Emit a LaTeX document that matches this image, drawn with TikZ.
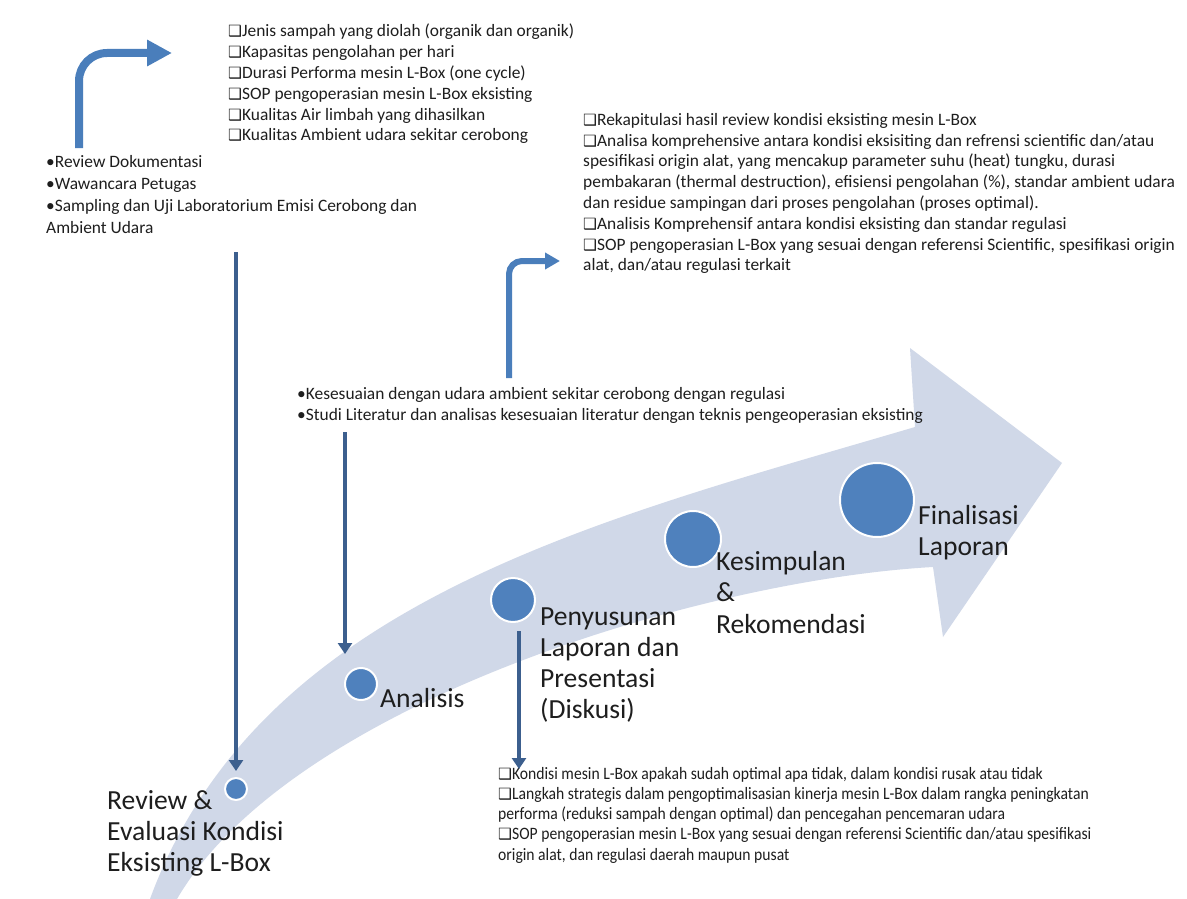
\documentclass[tikz,border=0pt]{standalone}
\usepackage{fontspec}
\setmainfont{Carlito}
\newfontfamily\narrowfont[FakeStretch=0.9]{Carlito}
\newfontfamily\djv{DejaVu Sans}
\usetikzlibrary{arrows.meta}
\definecolor{bandcol}{HTML}{D0D8E8}
\definecolor{dotcol}{HTML}{4F81BD}
\definecolor{vlinecol}{HTML}{3C5F8E}
\definecolor{bentcol}{HTML}{4A7EBB}
\definecolor{txtcol}{HTML}{1E1E1E}
\newcommand{\bx}{{\djv\fontsize{15.5}{15.5}\selectfont ❑}}
\begin{document}
\begin{tikzpicture}[x=1pt,y=-1pt,
  smalltxt/.style={font=\fontsize{17.4}{20.8}\selectfont, text=txtcol, align=left, anchor=north west, inner sep=0pt},
  narrowtxt/.style={font=\narrowfont\fontsize{17.4}{20.2}\selectfont, text=txtcol, align=left, anchor=north west, inner sep=0pt},
  bigtxt/.style={font=\fontsize{27.6}{31}\selectfont, text=txtcol, align=left, anchor=north west, inner sep=0pt},
  stage/.style={circle, fill=dotcol, draw=white, line width=2pt, inner sep=0pt},
  drop/.style={draw=vlinecol, line width=4pt, -{Triangle[length=11pt,width=14pt]}},
  bentarrow/.style={draw=bentcol, line width=8pt, -{Triangle[length=25pt,width=25pt]}},
  bentsmall/.style={draw=bentcol, line width=6pt, -{Triangle[length=15pt,width=16pt]}}]
\useasboundingbox (0,0) rectangle (1187,899);
\fill[white] (0,0) rectangle (1187,899);

% big curved arrow band
\fill[bandcol] (150,899) .. controls (260,600) and (600,520) .. (915,427)
  -- (910,348) -- (1062,463) -- (943,637) -- (933,567)
  .. controls (700,580) and (290,705) .. (177,899) -- cycle;

% stage circles
\node[stage, minimum size=22pt] (c1) at (236,789) {};
\node[stage, minimum size=32pt] (c2) at (361,684) {};
\node[stage, minimum size=44pt] (c3) at (513,600) {};
\node[stage, minimum size=56pt] (c4) at (693,539) {};
\node[stage, minimum size=74pt] (c5) at (877,500) {};

% stage labels
\node[bigtxt] (l1) at (107,790) {Review \&\\Evaluasi Kondisi\\Eksisting L-Box};
\node[bigtxt] (l2) at (380,688) {Analisis};
\node[bigtxt] (l3) at (540,608) {Penyusunan\\Laporan dan\\Presentasi\\(Diskusi)};
\node[bigtxt, font=\fontsize{27.6}{31.5}\selectfont] (l4) at (716,551) {Kesimpulan\\\&\\Rekomendasi};
\node[bigtxt] (l5) at (918,505) {Finalisasi\\Laporan};

% text blocks
\node[smalltxt] (t1) at (228,24) {\bx Jenis sampah yang diolah (organik dan organik)\\
\bx Kapasitas pengolahan per hari\\
\bx Durasi Performa mesin L-Box (one cycle)\\
\bx SOP pengoperasian mesin L-Box eksisting\\
\bx Kualitas Air limbah yang dihasilkan\\
\bx Kualitas Ambient udara sekitar cerobong};

\node[smalltxt, font=\fontsize{17.4}{22}\selectfont] (t0) at (46,155) {•Review Dokumentasi\\
•Wawancara Petugas\\
•Sampling dan Uji Laboratorium Emisi Cerobong dan\\
Ambient Udara};

\node[smalltxt] (t2) at (583,113) {\bx Rekapitulasi hasil review kondisi eksisting mesin L-Box\\
\bx Analisa komprehensive antara kondisi eksisiting dan refrensi scientific dan/atau\\
spesifikasi origin alat, yang mencakup parameter suhu (heat) tungku, durasi\\
pembakaran (thermal destruction), efisiensi pengolahan (\%), standar ambient udara\\
dan residue sampingan dari proses pengolahan (proses optimal).\\
\bx Analisis Komprehensif antara kondisi eksisting dan standar regulasi\\
\bx SOP pengoperasian L-Box yang sesuai dengan referensi Scientific, spesifikasi origin\\
alat, dan/atau regulasi terkait};

\node[smalltxt] (t3) at (297,387) {•Kesesuaian dengan udara ambient sekitar cerobong dengan regulasi\\
•Studi Literatur dan analisas kesesuaian literatur dengan teknis pengeoperasian eksisting};

\node[narrowtxt] (t4) at (498,767) {\bx Kondisi mesin L-Box apakah sudah optimal apa tidak, dalam kondisi rusak atau tidak\\
\bx Langkah strategis dalam pengoptimalisasian kinerja mesin L-Box dalam rangka peningkatan\\
performa (reduksi sampah dengan optimal) dan pencegahan pencemaran udara\\
\bx SOP pengoperasian mesin L-Box yang sesuai dengan referensi Scientific dan/atau spesifikasi\\
origin alat, dan regulasi daerah maupun pusat};

% connector coordinates
\coordinate (b1s) at (79,148);
\coordinate (b1c) at (79,53);
\coordinate (b1e) at (172,53);
\coordinate (b2s) at (509,378);
\coordinate (b2c) at (509,261);
\coordinate (b2e) at (560,261);
\coordinate (d1s) at (236,252);
\coordinate (d2s) at (345,432);
\coordinate (d3s) at (519,631);
\coordinate (d3e) at (519,769);

% bent arrows
\draw[bentarrow, rounded corners=28pt] (b1s) -- (b1c) -- (b1e);
\draw[bentsmall, rounded corners=13pt] (b2s) -- (b2c) -- (b2e);

% drop arrows
\draw[drop, shorten >=6pt] (d1s) -- (c1.north);
\draw[drop, shorten >=13pt] (d2s) -- (d2s |- c2.north);
\draw[drop] (d3s) -- (d3e);
\end{tikzpicture}
\end{document}
